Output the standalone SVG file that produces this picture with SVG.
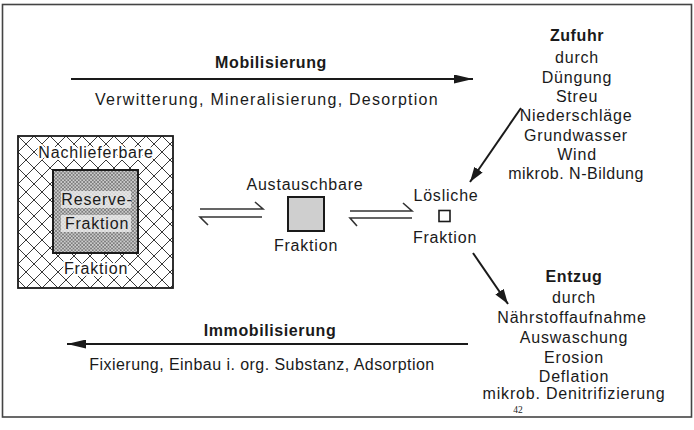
<svg xmlns="http://www.w3.org/2000/svg" width="694" height="430" viewBox="0 0 694 430">
<style>
.t{font-family:"Liberation Sans",Arial,Helvetica,sans-serif;font-size:16px;fill:#1a1a1a;letter-spacing:0.8px;text-anchor:middle}
.b{font-weight:bold;letter-spacing:0.6px}
.halo{paint-order:stroke;stroke:#fff;stroke-width:4px;stroke-linejoin:round}
.arr{stroke:#1a1a1a;stroke-width:2;fill:none}
.harp{stroke:#333;stroke-width:1.6;fill:none}
.frame{fill:none;stroke:#444;stroke-width:1.6}
</style>
<defs>
<marker id="ah" viewBox="0 0 19 9" refX="19" refY="4.5" markerWidth="19" markerHeight="9" markerUnits="userSpaceOnUse" orient="auto">
<path d="M0,0 L19,4.5 L0,9 Z" fill="#1a1a1a"/>
</marker>
<marker id="ah2" viewBox="0 0 15 10" refX="15" refY="5" markerWidth="15" markerHeight="10" markerUnits="userSpaceOnUse" orient="auto">
<path d="M0,0 L15,5 L0,10 Z" fill="#1a1a1a"/>
</marker>
<pattern id="hatch" width="16" height="16" patternUnits="userSpaceOnUse" x="18" y="136">
<rect width="16" height="16" fill="#fff"/>
<path d="M0,0 L16,16 M16,0 L0,16" stroke="#222" stroke-width="0.9"/>
</pattern>
<pattern id="fine" width="3.5" height="3.5" patternUnits="userSpaceOnUse">
<rect width="3.5" height="3.5" fill="#cdcdcd"/>
<path d="M0,0 L3.5,3.5 M3.5,0 L0,3.5" stroke="#555" stroke-width="0.6"/>
</pattern>
</defs>
<rect x="0" y="0" width="694" height="430" fill="#fff"/>
<rect class="frame" x="2.5" y="4.5" width="689" height="412.5"/>

<g id="nachlieferbare">
<rect x="18" y="136" width="155" height="152" fill="url(#hatch)" stroke="#1a1a1a" stroke-width="1.8"/>
<text class="t halo" x="96" y="158">Nachlieferbare</text>
<text class="t halo" x="96" y="274">Fraktion</text>
</g>
<g id="reserve">
<rect x="53" y="170" width="85" height="83" fill="url(#fine)" stroke="#1a1a1a" stroke-width="2"/>
<rect x="61" y="191" width="70" height="17" fill="#ececec" opacity="0.8"/>
<rect x="61" y="215" width="70" height="17" fill="#ececec" opacity="0.8"/>
<text class="t" x="97" y="205">Reserve-</text>
<text class="t" x="97" y="229">Fraktion</text>
</g>
<g id="austauschbare">
<rect x="288" y="197" width="36" height="34" fill="#cfcfcf" stroke="#1a1a1a" stroke-width="2"/>
<text class="t" x="305" y="190">Austauschbare</text>
<text class="t" x="306" y="251">Fraktion</text>
</g>
<g id="loesliche">
<rect x="439" y="210.5" width="11" height="11" fill="#fff" stroke="#1a1a1a" stroke-width="1.6"/>
<text class="t" x="446" y="201">Lösliche</text>
<text class="t" x="445" y="243">Fraktion</text>
</g>
<g id="zufuhr">
<text class="t b" x="577" y="41">Zufuhr</text>
<text class="t" x="577" y="63">durch</text>
<text class="t" x="577" y="83">Düngung</text>
<text class="t" x="577" y="102">Streu</text>
<text class="t" x="576" y="121">Niederschläge</text>
<text class="t" x="576" y="141">Grundwasser</text>
<text class="t" x="577" y="160">Wind</text>
<text class="t" x="576" y="179" style="letter-spacing:0.5px">mikrob. N-Bildung</text>
</g>
<g id="entzug">
<text class="t b" x="574" y="282">Entzug</text>
<text class="t" x="574" y="303">durch</text>
<text class="t" x="572" y="323">Nährstoffaufnahme</text>
<text class="t" x="574" y="343">Auswaschung</text>
<text class="t" x="574" y="363">Erosion</text>
<text class="t" x="574" y="382">Deflation</text>
<text class="t" x="574" y="399">mikrob. Denitrifizierung</text>
<text x="518" y="413" style="font-family:'Liberation Serif',serif;font-size:9.5px;fill:#222;text-anchor:middle">42</text>
</g>
<g id="mobilisierung">
<text class="t b" x="271" y="68">Mobilisierung</text>
<text class="t" x="267" y="105" style="letter-spacing:1.25px">Verwitterung, Mineralisierung, Desorption</text>
</g>
<g id="immobilisierung">
<text class="t b" x="270" y="336">Immobilisierung</text>
<text class="t" x="262" y="370" style="letter-spacing:0.45px">Fixierung, Einbau i. org. Substanz, Adsorption</text>
</g>
<g id="connectors">
<path class="arr" d="M71,79 L473,79" marker-end="url(#ah)"/>
<path class="arr" d="M468,344 L67,344" marker-end="url(#ah)"/>
<path class="arr" d="M521,108 L470,182" stroke-width="1.6" marker-end="url(#ah2)"/>
<path class="arr" d="M473,253 L508,304" stroke-width="1.6" marker-end="url(#ah2)"/>
<path class="harp" d="M200,209 H263 L255,202 M262,217 H200 L208,225"/>
<path class="harp" d="M350,211 H412 L403,203 M412,218 H350 L357,226"/>
</g>
</svg>
